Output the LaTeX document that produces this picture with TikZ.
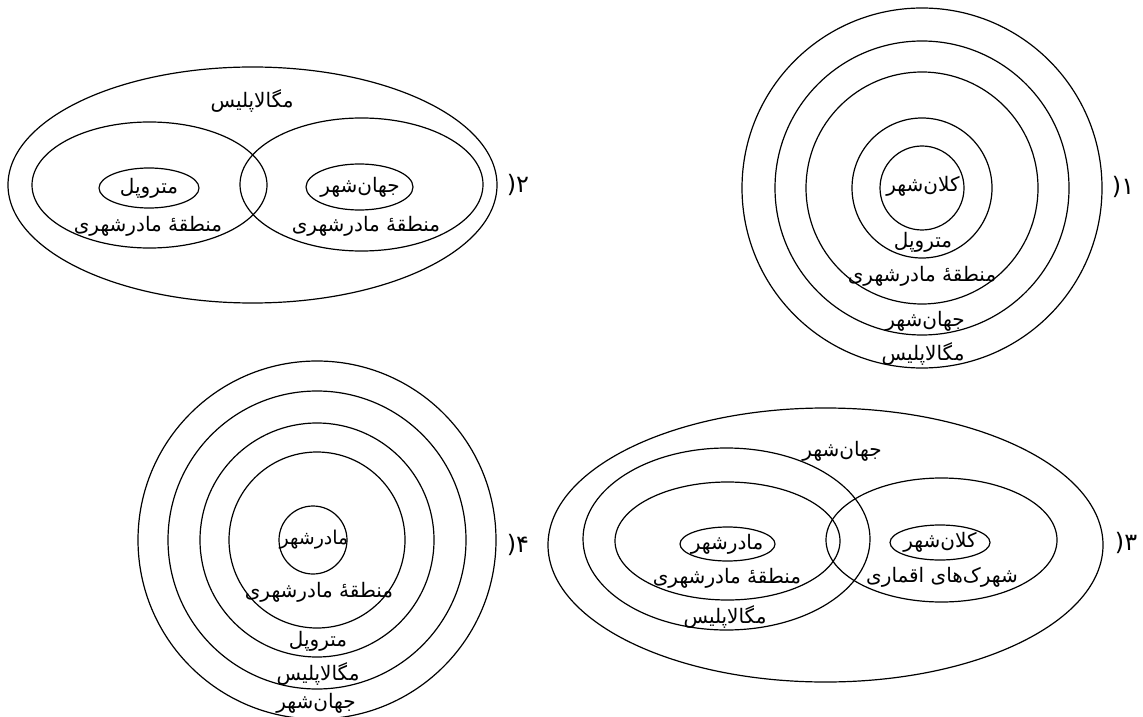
\documentclass[tikz,border=0pt]{standalone}
\usepackage{fontspec}
\usepackage{tikz}
\TeXXeTstate=1
\newfontfamily\farsifont[Script=Arabic]{DejaVu Sans}
\newcommand{\fatext}[1]{\beginR #1\endR}
\newcommand{\itemno}[1]{\mbox{(}\mbox{#1}}
\tikzset{
  ring/.style={draw=black, line width=0.6pt},
  lbl/.style={font=\farsifont\fontsize{10}{12}\selectfont, inner sep=0pt},
  num/.style={font=\farsifont\fontsize{12}{14}\selectfont, inner sep=0pt},
}

\begin{document}
\begin{tikzpicture}[x=0.5pt, y=-0.5pt]
  \useasboundingbox (0,0) rectangle (1143,716);
  % (1) concentric rings
  \coordinate (c1) at (922,188);
  \foreach \r in {180,147,116,70,42} \draw[ring] (c1) circle[radius=\r];
  \node[lbl] (kalan1) at (923,186) {\fatext{کلان‌شهر}};
  \node[lbl] (metro1) at (923,242) {\fatext{متروپل}};
  \node[lbl] (mantaqe1) at (922,276) {\fatext{منطقهٔ مادرشهری}};
  \node[lbl] (jahan1) at (925,321) {\fatext{جهان‌شهر}};
  \node[lbl] (mega1) at (923,354) {\fatext{مگالاپلیس}};
  \node[num] (no1) at (1123,187) {\itemno{۱}};
  % (2) two regions inside the megalopolis
  \draw[ring] (252.5,185) ellipse[x radius=244.5, y radius=118];
  \draw[ring] (149.5,185) ellipse[x radius=117.5, y radius=63];
  \draw[ring] (361.5,184.5) ellipse[x radius=121.5, y radius=66.5];
  \draw[ring] (149,188) ellipse[x radius=50, y radius=20];
  \draw[ring] (359.5,187) ellipse[x radius=53.5, y radius=23];
  \node[lbl] (mega2) at (252,101) {\fatext{مگالاپلیس}};
  \node[lbl] (metro2) at (149,188) {\fatext{متروپل}};
  \node[lbl] (jahan2) at (360,187) {\fatext{جهان‌شهر}};
  \node[lbl] (mantaqe2a) at (148,226) {\fatext{منطقهٔ مادرشهری}};
  \node[lbl] (mantaqe2b) at (366,226) {\fatext{منطقهٔ مادرشهری}};
  \node[num] (no2) at (518,185) {\itemno{۲}};
  % (3) world city with satellite towns
  \draw[ring] (825.5,545) ellipse[x radius=277.5, y radius=137];
  \draw[ring] (726.5,539) ellipse[x radius=143.5, y radius=91];
  \draw[ring] (727.5,541) ellipse[x radius=112.5, y radius=59];
  \draw[ring] (941.5,540) ellipse[x radius=115.5, y radius=62];
  \draw[ring] (727.5,544) ellipse[x radius=47.5, y radius=17];
  \draw[ring] (940,542.5) ellipse[x radius=50, y radius=17.5];
  \node[lbl] (jahan3) at (842,451) {\fatext{جهان‌شهر}};
  \node[lbl] (madar3) at (727,544) {\fatext{مادرشهر}};
  \node[lbl] (mantaqe3) at (727,578) {\fatext{منطقهٔ مادرشهری}};
  \node[lbl] (mega3) at (725,617) {\fatext{مگالاپلیس}};
  \node[lbl] (kalan3) at (940,542) {\fatext{کلان‌شهر}};
  \node[lbl] (aqmari3) at (942,577) {\fatext{شهرک‌های اقماری}};
  \node[num] (no3) at (1126,543) {\itemno{۳}};
  % (4) concentric rings
  \coordinate (c4) at (317,540);
  \foreach \r in {179,149,117,88} \draw[ring] (c4) circle[radius=\r];
  \draw[ring] (313,540) circle[radius=34];
  \node[lbl, font=\farsifont\fontsize{9.5}{12}\selectfont] (madar4) at (314,540) {\fatext{مادرشهر}};
  \node[lbl] (mantaqe4) at (319,592) {\fatext{منطقهٔ مادرشهری}};
  \node[lbl] (metro4) at (318,641) {\fatext{متروپل}};
  \node[lbl] (mega4) at (318,674) {\fatext{مگالاپلیس}};
  \node[lbl] (jahan4) at (316,703) {\fatext{جهان‌شهر}};
  \node[num] (no4) at (518,545) {\itemno{۴}};
\end{tikzpicture}
\end{document}
